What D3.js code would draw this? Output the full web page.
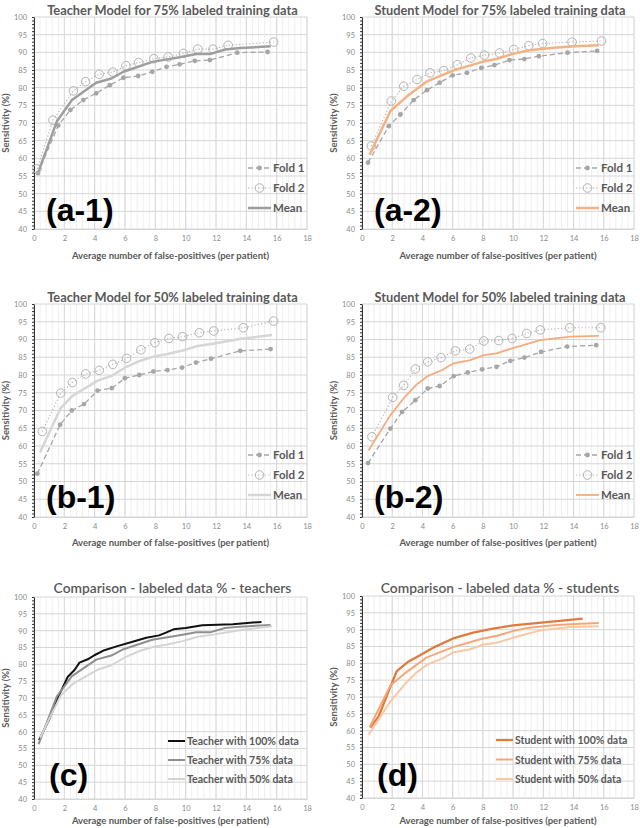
<!DOCTYPE html>
<html>
<head>
<meta charset="utf-8">
<script src="https://cdn.jsdelivr.net/npm/d3@7"></script>
<style>
  body { margin: 0; background: #fff; }
  text { font-family: Lato, "Open Sans", sans-serif; }
</style>
</head>
<body>
<script>
// values: [false-positives per patient, sensitivity %]
var t75Fold1 = [[0.26,55.8],[1.6,69.3],[2.4,73.7],[3.25,76.5],[4.1,78.4],[5.0,80.7],[5.9,82.8],[6.87,83.3],[7.8,84.5],[8.74,85.9],[9.6,86.6],[10.6,87.6],[11.6,87.8],[13.4,89.9],[15.4,90.1]];
var t75Fold2 = [[0.2,57.0],[1.25,70.8],[2.6,79.1],[3.4,81.7],[4.3,83.8],[5.2,84.4],[6.06,86.2],[6.9,87.1],[7.9,88.2],[8.85,88.7],[9.85,89.7],[10.8,90.9],[11.8,90.9],[12.8,92.0],[15.8,92.9]];
var t75Mean  = [[0.3,56.3],[1.5,70.4],[2.5,76.5],[4.1,81.4],[5.1,82.6],[5.9,84.5],[7.8,87.3],[9.7,88.7],[10.7,89.5],[11.6,89.5],[12.6,90.8],[13.6,91.2],[15.6,91.7]];

var s75Fold1 = [[0.4,58.8],[1.77,69.1],[2.54,72.4],[3.42,76.5],[4.3,79.3],[5.14,81.4],[6.0,83.5],[6.95,84.2],[7.9,85.6],[8.76,86.4],[9.76,87.8],[10.75,88.1],[11.7,88.9],[13.6,89.9],[15.56,90.4]];
var s75Fold2 = [[0.62,63.5],[1.94,76.2],[2.76,80.4],[3.64,82.3],[4.5,84.2],[5.4,84.8],[6.3,86.5],[7.2,88.4],[8.1,89.2],[9.1,89.8],[10.04,90.8],[11.04,91.9],[11.96,92.5],[13.9,92.9],[15.85,93.2]];
var s75Mean  = [[0.5,61.0],[1.88,73.4],[2.94,77.4],[4.26,81.7],[6.07,84.9],[7.95,87.3],[8.94,88.2],[9.93,89.5],[11.04,90.6],[12.7,91.3],[14.1,91.7],[15.67,92.0]];

var t50Fold1 = [[0.22,52.2],[1.72,66.0],[2.49,70.0],[3.3,71.8],[4.19,75.6],[5.13,76.3],[5.99,79.1],[6.94,80.0],[7.87,81.0],[8.8,81.4],[9.76,82.1],[10.68,83.5],[11.67,84.6],[13.6,86.8],[15.6,87.3]];
var t50Fold2 = [[0.55,64.1],[1.76,74.9],[2.53,77.9],[3.41,80.3],[4.3,81.3],[5.2,83.0],[6.1,84.7],[7.05,87.1],[7.97,89.1],[8.9,90.3],[9.8,90.8],[10.9,91.9],[11.85,92.4],[13.8,93.3],[15.8,95.2]];
var t50Mean  = [[0.4,58.2],[1.76,70.7],[2.53,74.1],[4.2,78.4],[5.13,79.8],[6.06,82.2],[7.05,84.1],[7.9,85.2],[8.8,85.9],[9.8,86.9],[10.8,88.2],[11.9,88.9],[13.66,90.2],[15.7,91.3]];

var s50Fold1 = [[0.4,55.2],[1.88,64.9],[2.65,69.6],[3.53,72.9],[4.35,76.2],[5.14,76.9],[6.07,79.7],[7.0,80.7],[7.95,81.6],[8.9,82.3],[9.82,84.0],[10.75,84.9],[11.85,86.5],[13.58,88.0],[15.5,88.4]];
var s50Fold2 = [[0.66,62.6],[2.03,73.7],[2.76,77.1],[3.53,81.7],[4.35,83.7],[5.23,84.9],[6.18,86.8],[7.13,87.3],[8.06,89.6],[9.05,89.7],[9.93,90.3],[10.9,91.7],[11.8,92.7],[13.75,93.3],[15.8,93.3]];
var s50Mean  = [[0.44,58.8],[1.88,68.7],[2.87,74.0],[3.64,77.4],[4.35,79.7],[5.3,81.4],[6.07,83.3],[7.17,84.2],[8.06,85.6],[8.9,86.1],[9.93,87.5],[10.9,88.7],[11.8,89.8],[13.8,90.8],[15.67,91.0]];

var t100 = [[0.33,57.5],[1.03,63.9],[1.64,70.7],[2.23,76.3],[2.67,78.3],[3.0,80.5],[3.54,81.5],[3.98,82.7],[4.64,84.2],[5.5,85.4],[6.5,86.7],[7.4,87.9],[8.25,88.6],[8.7,89.4],[9.2,90.4],[10.0,90.8],[11.1,91.6],[13.1,91.9],[15.0,92.6]];
var s100 = [[0.55,60.9],[1.1,64.2],[1.75,71.6],[2.3,77.7],[3.0,80.3],[3.84,82.4],[4.82,84.9],[6.03,87.4],[7.35,89.1],[8.66,90.3],[10.0,91.3],[11.7,92.0],[14.6,93.3]];

var xTicks = d3.range(0, 19, 2);
var yTicks = d3.range(40, 101, 5);
var foldNames = ["Fold 1", "Fold 2", "Mean"];
var teacherNames = ["Teacher with 100% data", "Teacher with 75% data", "Teacher with 50% data"];
var studentNames = ["Student with 100% data", "Student with 75% data", "Student with 50% data"];

var svg = d3.select("body").append("svg")
    .attr("width", 640)
    .attr("height", 828);

function foldStyles(meanColor, meanWidth) {
    return [
        {stroke: "#a6a6a6", width: 1.3, dash: "5,3", marker: "dot"},
        {stroke: "#b4b4b4", width: 1.1, dash: "1.2,2.2", marker: "ring"},
        {stroke: meanColor, width: meanWidth, dash: null, marker: null}
    ];
}

function drawPanel(p) {
    var g = svg.append("g");
    var x = d3.scaleLinear().domain([0, 18]).range([p.left, p.right]);
    var y = d3.scaleLinear().domain([40, 100]).range([p.bottom, p.top]);

    // minor vertical grid
    g.selectAll(".vminor").data(d3.range(0, 18.01, 0.4)).enter().append("line")
        .attr("x1", function(d){ return x(d); }).attr("x2", function(d){ return x(d); })
        .attr("y1", p.top).attr("y2", p.bottom)
        .attr("stroke", "#ebebeb").attr("stroke-width", 0.8);
    // major grid
    g.selectAll(".vmajor").data(xTicks).enter().append("line")
        .attr("x1", function(d){ return x(d); }).attr("x2", function(d){ return x(d); })
        .attr("y1", p.top).attr("y2", p.bottom)
        .attr("stroke", "#d6d6d6").attr("stroke-width", 1);
    g.selectAll(".hmajor").data(yTicks).enter().append("line")
        .attr("x1", p.left).attr("x2", p.right)
        .attr("y1", function(d){ return y(d); }).attr("y2", function(d){ return y(d); })
        .attr("stroke", "#d6d6d6").attr("stroke-width", 1);

    // axes
    var xa = g.append("g").attr("transform", "translate(0," + p.bottom + ")")
        .call(d3.axisBottom(x).tickValues(xTicks).tickSize(0).tickPadding(7));
    xa.select(".domain").attr("stroke", "#d6d6d6");
    xa.selectAll("text").attr("fill", "#8a8a8a").style("font-size", "7.5px");

    var ya = g.append("g").attr("transform", "translate(" + p.left + ",0)")
        .call(d3.axisLeft(y).tickValues(yTicks).tickSize(0).tickPadding(7));
    ya.select(".domain").attr("stroke", "#333");
    ya.selectAll("text").attr("fill", "#8a8a8a").style("font-size", "7.5px");
    var ym = g.append("g").attr("transform", "translate(" + p.left + ",0)")
        .call(d3.axisLeft(y).tickValues(d3.range(40, 101, 1)).tickSize(2).tickFormat(""));
    ym.select(".domain").remove();
    ym.selectAll("line").attr("stroke", "#333");

    // titles
    g.append("text").attr("x", (p.left + p.right) / 2 + 2).attr("y", p.titleY)
        .attr("text-anchor", "middle").attr("fill", "#595959")
        .style("font-size", p.titleSize + "px").style("font-weight", p.titleWeight)
        .text(p.title);
    g.append("text").attr("x", (p.left + p.right) / 2).attr("y", p.bottom + p.xTitleGap)
        .attr("text-anchor", "middle").attr("fill", "#595959")
        .style("font-size", "9.5px").style("font-weight", "bold")
        .text("Average number of false-positives (per patient)");
    g.append("text")
        .attr("transform", "translate(" + (p.left - 25) + "," + ((p.top + p.bottom) / 2) + ") rotate(-90)")
        .attr("text-anchor", "middle").attr("fill", "#595959")
        .style("font-size", "9.5px").style("font-weight", "bold")
        .text("Sensitivity (%)");

    // series
    var line = d3.line().x(function(d){ return x(d[0]); }).y(function(d){ return y(d[1]); });
    p.series.forEach(function(s, i) {
        var st = p.styles[i];
        g.append("path").datum(s).attr("d", line)
            .attr("fill", "none").attr("stroke", st.stroke)
            .attr("stroke-width", st.width)
            .attr("stroke-dasharray", st.dash)
            .attr("stroke-linejoin", "round");
        if (st.marker === "dot") {
            g.selectAll(".dot" + i).data(s).enter().append("circle")
                .attr("cx", function(d){ return x(d[0]); }).attr("cy", function(d){ return y(d[1]); })
                .attr("r", 2.4).attr("fill", st.stroke);
        } else if (st.marker === "ring") {
            g.selectAll(".ring" + i).data(s).enter().append("circle")
                .attr("cx", function(d){ return x(d[0]); }).attr("cy", function(d){ return y(d[1]); })
                .attr("r", 4.3).attr("fill", "none").attr("stroke", st.stroke).attr("stroke-width", 1);
        }
    });

    // legend
    p.names.forEach(function(name, i) {
        var st = p.styles[i];
        var ly = p.legY + i * p.legGap;
        g.append("line").attr("x1", p.legX).attr("x2", p.legX + p.legLen)
            .attr("y1", ly).attr("y2", ly)
            .attr("stroke", st.stroke).attr("stroke-width", st.width)
            .attr("stroke-dasharray", st.dash);
        if (st.marker === "dot") {
            g.append("circle").attr("cx", p.legX + p.legLen / 2).attr("cy", ly).attr("r", 2.4).attr("fill", st.stroke);
        } else if (st.marker === "ring") {
            g.append("circle").attr("cx", p.legX + p.legLen / 2).attr("cy", ly).attr("r", 4.3)
                .attr("fill", "none").attr("stroke", st.stroke).attr("stroke-width", 1);
        }
        g.append("text").attr("x", p.legX + p.legLen + 2).attr("y", ly + 4)
            .attr("fill", "#595959").style("font-size", p.legSize + "px").style("font-weight", "bold")
            .text(name);
    });

    // panel tag
    g.append("text").attr("x", p.tagX).attr("y", p.tagY)
        .attr("fill", "#000").style("font-family", "'Liberation Sans', Arial, sans-serif")
        .style("font-size", "32px").style("font-weight", "bold")
        .text(p.tag);
}

var L = {left: 34, right: 307};
var R = {left: 362, right: 634};

drawPanel({left: L.left, right: L.right, top: 17, bottom: 229, titleY: 15, titleSize: 12.8, titleWeight: "bold",
    title: "Teacher Model for 75% labeled training data", xTitleGap: 30,
    series: [t75Fold1, t75Fold2, t75Mean], styles: foldStyles("#9e9e9e", 2.5), names: foldNames,
    legX: 248, legY: 168, legGap: 20, legLen: 23, legSize: 11.5, tag: "(a-1)", tagX: 46, tagY: 221});
drawPanel({left: R.left, right: R.right, top: 17, bottom: 229, titleY: 15, titleSize: 12.8, titleWeight: "bold",
    title: "Student Model for 75% labeled training data", xTitleGap: 30,
    series: [s75Fold1, s75Fold2, s75Mean], styles: foldStyles("#f4b183", 2.5), names: foldNames,
    legX: 576, legY: 168, legGap: 20, legLen: 23, legSize: 11.5, tag: "(a-2)", tagX: 374, tagY: 221});
drawPanel({left: L.left, right: L.right, top: 304, bottom: 517, titleY: 302, titleSize: 12.8, titleWeight: "bold",
    title: "Teacher Model for 50% labeled training data", xTitleGap: 29,
    series: [t50Fold1, t50Fold2, t50Mean], styles: foldStyles("#d6d6d6", 2.5), names: foldNames,
    legX: 248, legY: 455, legGap: 20, legLen: 23, legSize: 11.5, tag: "(b-1)", tagX: 46, tagY: 508});
drawPanel({left: R.left, right: R.right, top: 304, bottom: 517, titleY: 302, titleSize: 12.8, titleWeight: "bold",
    title: "Student Model for 50% labeled training data", xTitleGap: 29,
    series: [s50Fold1, s50Fold2, s50Mean], styles: foldStyles("#f6ab7c", 1.8), names: foldNames,
    legX: 576, legY: 455, legGap: 20, legLen: 23, legSize: 11.5, tag: "(b-2)", tagX: 374, tagY: 508});
drawPanel({left: L.left, right: L.right, top: 597, bottom: 799, titleY: 593, titleSize: 13.8, titleWeight: "600",
    title: "Comparison - labeled data % - teachers", xTitleGap: 25,
    series: [t100, t75Mean, t50Mean],
    styles: [{stroke: "#111", width: 2}, {stroke: "#8f8f8f", width: 2}, {stroke: "#d4d4d4", width: 2}],
    names: teacherNames, legX: 168, legY: 741, legGap: 19, legLen: 17, legSize: 10.5, tag: "(c)", tagX: 49, tagY: 786});
drawPanel({left: R.left, right: R.right, top: 596, bottom: 798, titleY: 593, titleSize: 13.8, titleWeight: "600",
    title: "Comparison - labeled data % - students", xTitleGap: 26,
    series: [s100, s75Mean, s50Mean],
    styles: [{stroke: "#e07a3e", width: 2.3}, {stroke: "#f4a878", width: 2}, {stroke: "#f8c8a6", width: 2}],
    names: studentNames, legX: 496, legY: 740, legGap: 19.5, legLen: 17, legSize: 10.5, tag: "(d)", tagX: 377, tagY: 786});
</script>
</body>
</html>
